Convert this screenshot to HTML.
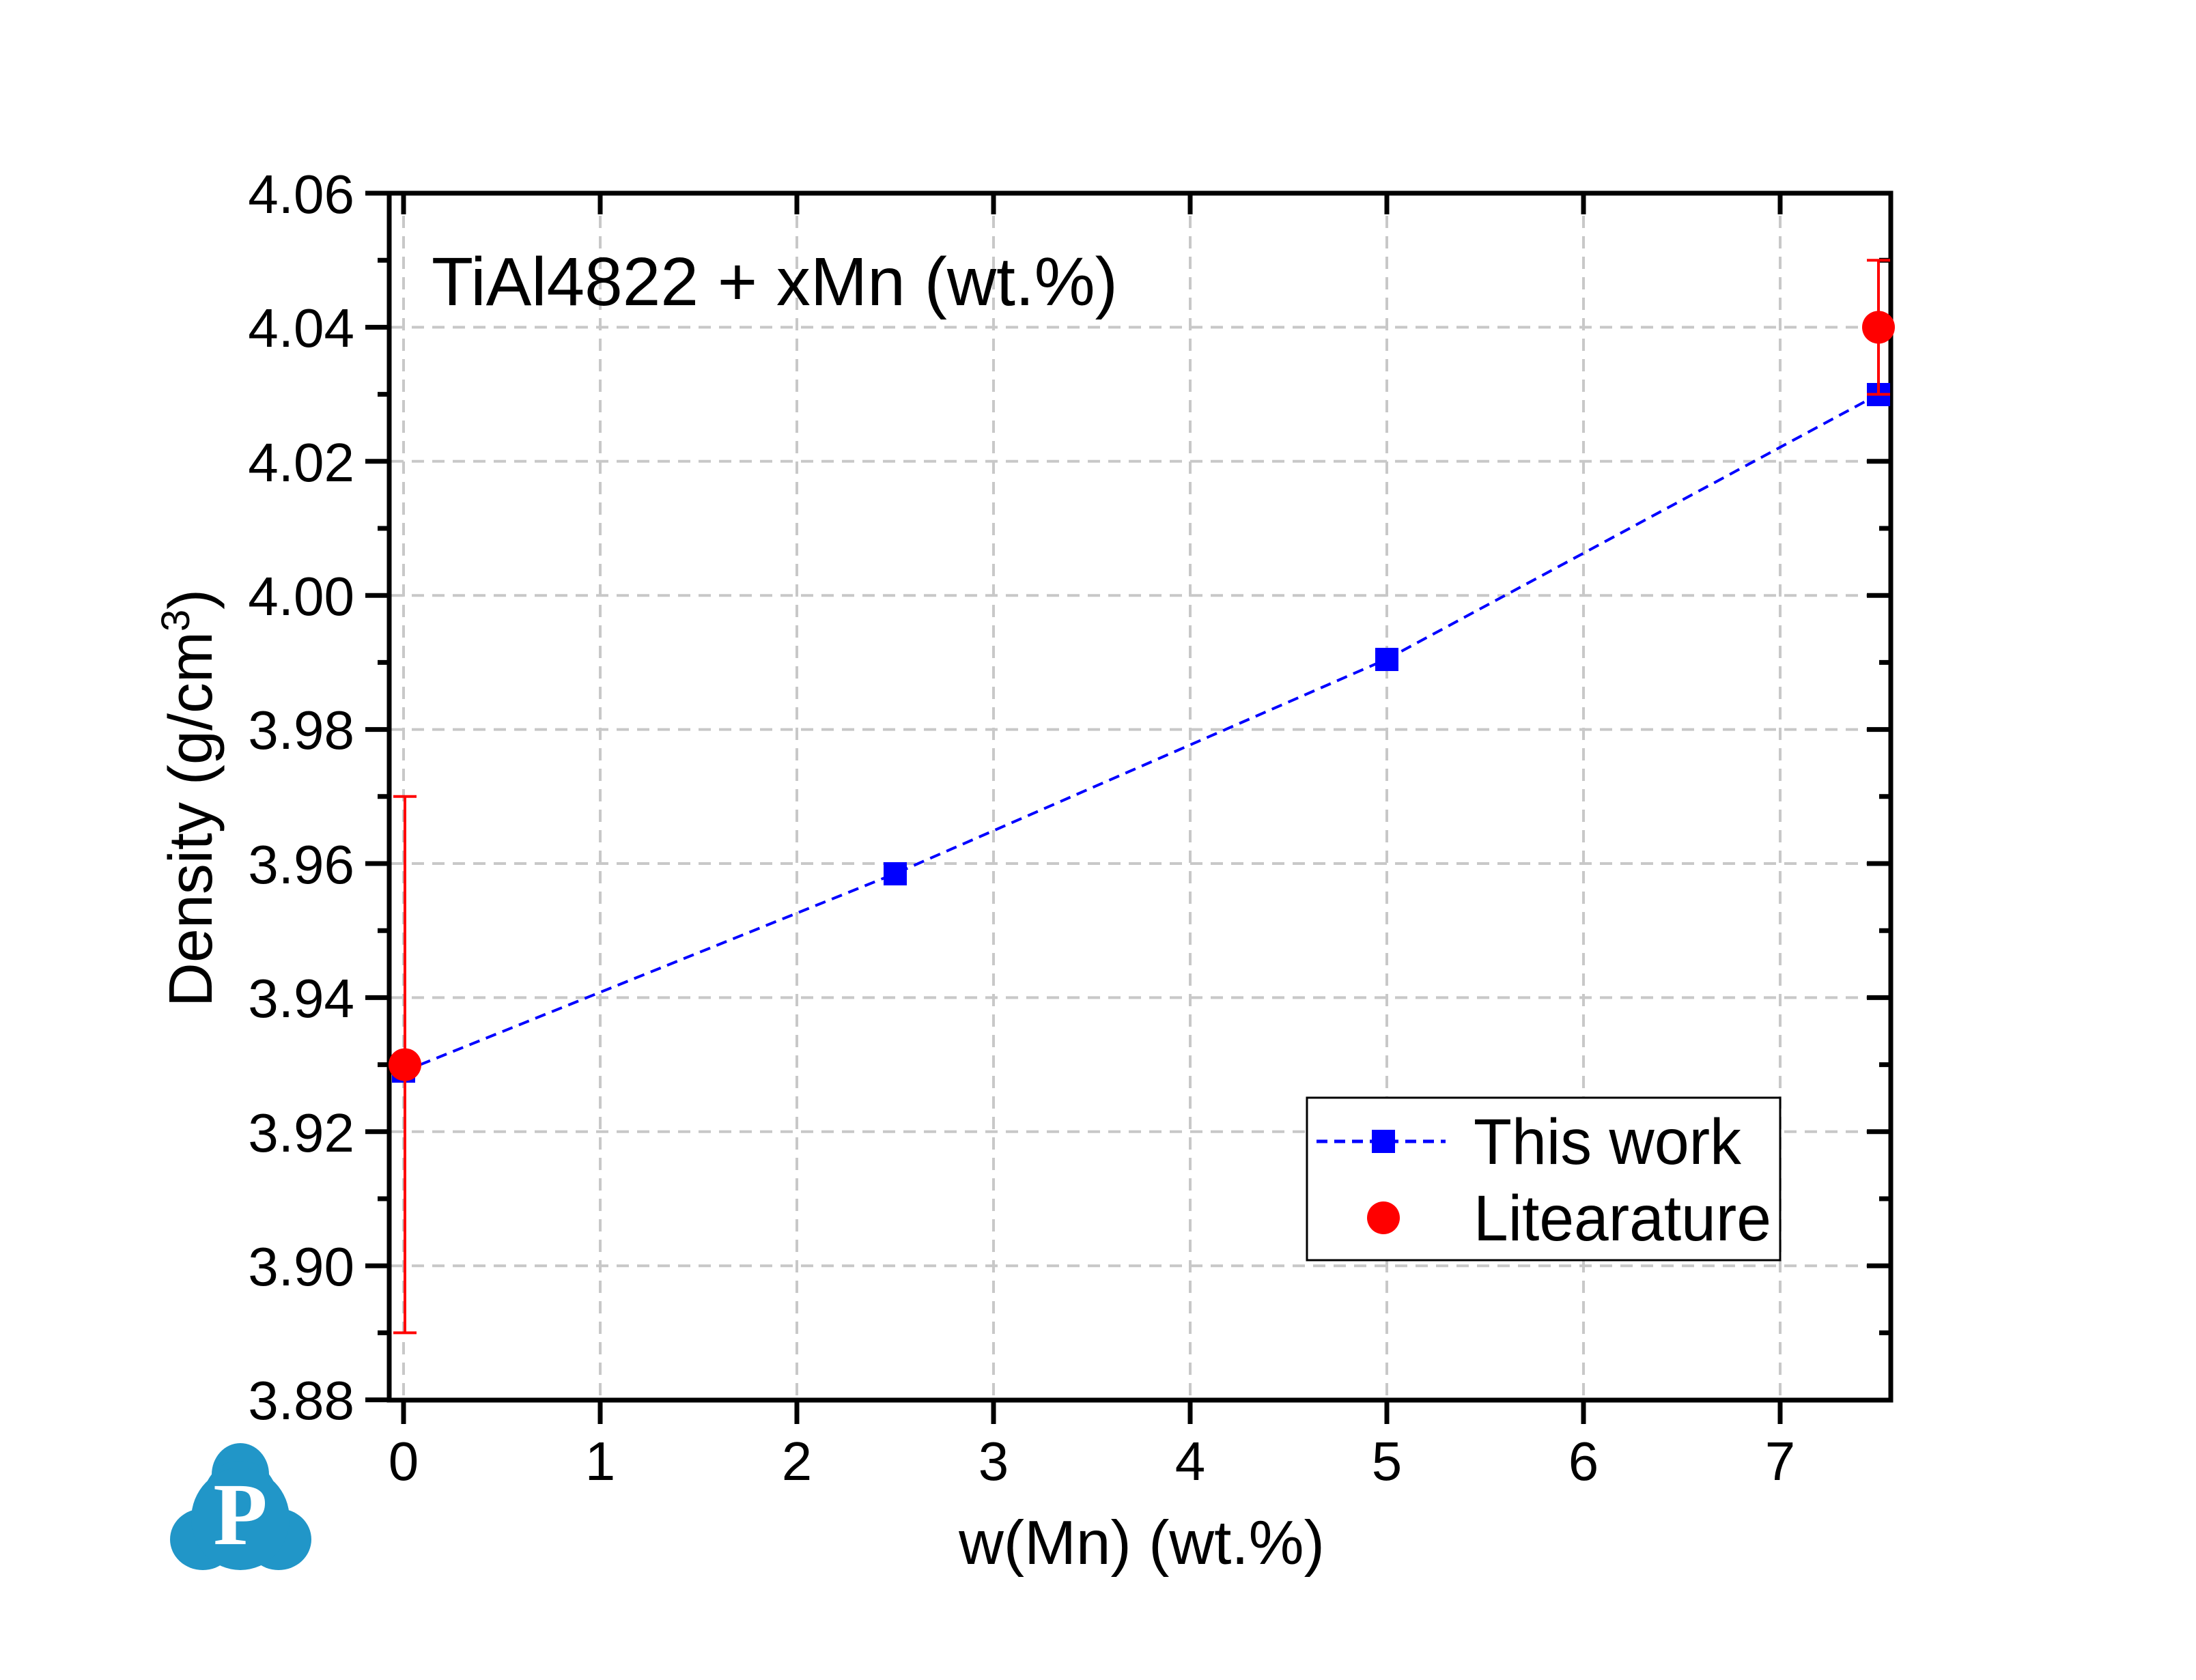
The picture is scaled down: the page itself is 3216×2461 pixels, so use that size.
<!DOCTYPE html>
<html><head><meta charset="utf-8"><style>html,body{margin:0;padding:0;background:#fff}svg{display:block}</style></head>
<body>
<svg width="3216" height="2461" viewBox="0 0 3216 2461" xmlns="http://www.w3.org/2000/svg" font-family="Liberation Sans, Arial, sans-serif">
<rect width="3216" height="2461" fill="#fff"/>
<!-- grid -->
<g stroke="#c8c8c8" stroke-width="4" stroke-dasharray="18,12" fill="none">
<path d="M591 286V2048M879 286V2048M1167 286V2048M1455 286V2048M1743 286V2048M2031 286V2048M2319 286V2048M2607 286V2048"/>
<path d="M573 479.4H2766M573 675.8H2766M573 872.2H2766M573 1068.6H2766M573 1265H2766M573 1461.4H2766M573 1657.8H2766M573 1854.2H2766"/>
</g>
<!-- ticks -->
<g stroke="#000" stroke-width="7">
<path d="M535 283H570M535 479.4H570M535 675.8H570M535 872.2H570M535 1068.6H570M535 1265H570M535 1461.4H570M535 1657.8H570M535 1854.2H570M535 2050.6H570"/>
<path d="M553 381.2H570M553 577.6H570M553 774H570M553 970.4H570M553 1166.8H570M553 1363.2H570M553 1559.6H570M553 1756H570M553 1952.4H570"/>
<path d="M2734 479.4H2769M2734 675.8H2769M2734 872.2H2769M2734 1068.6H2769M2734 1265H2769M2734 1461.4H2769M2734 1657.8H2769M2734 1854.2H2769"/>
<path d="M2752 381.2H2769M2752 577.6H2769M2752 774H2769M2752 970.4H2769M2752 1166.8H2769M2752 1363.2H2769M2752 1559.6H2769M2752 1756H2769M2752 1952.4H2769"/>
<path d="M591 2051V2086M879 2051V2086M1167 2051V2086M1455 2051V2086M1743 2051V2086M2031 2051V2086M2319 2051V2086M2607 2051V2086"/>
<path d="M591 283V314M879 283V314M1167 283V314M1455 283V314M1743 283V314M2031 283V314M2319 283V314M2607 283V314"/>
</g>
<rect x="570" y="283" width="2199" height="1768" fill="none" stroke="#000" stroke-width="7"/>
<!-- tick labels -->
<g font-size="80" text-anchor="end" fill="#000">
<text x="519" y="312">4.06</text><text x="519" y="508">4.04</text><text x="519" y="705">4.02</text><text x="519" y="901">4.00</text><text x="519" y="1097">3.98</text><text x="519" y="1294">3.96</text><text x="519" y="1490">3.94</text><text x="519" y="1687">3.92</text><text x="519" y="1883">3.90</text><text x="519" y="2079">3.88</text>
</g>
<g font-size="80" text-anchor="middle" fill="#000">
<text x="591" y="2168">0</text><text x="879" y="2168">1</text><text x="1167" y="2168">2</text><text x="1455" y="2168">3</text><text x="1743" y="2168">4</text><text x="2031" y="2168">5</text><text x="2319" y="2168">6</text><text x="2607" y="2168">7</text>
</g>
<text x="1672" y="2291" font-size="91" text-anchor="middle">w(Mn) (wt.%)</text>
<text transform="translate(310,1169) rotate(-90)" font-size="90" text-anchor="middle">Density (g/cm<tspan font-size="58" dy="-33">3</tspan><tspan dy="33">)</tspan></text>
<text x="632" y="447" font-size="100">TiAl4822 + xMn (wt.%)</text>
<!-- this work -->
<polyline points="591,1569.4 1311,1279.7 2031,965.5 2751,577.6" fill="none" stroke="#0000ff" stroke-width="4" stroke-dasharray="16,10"/>
<g fill="#0000ff">
<rect x="574" y="1552" width="34" height="34"/><rect x="1294" y="1263" width="34" height="34"/><rect x="2014" y="949" width="34" height="34"/><rect x="2734" y="561" width="34" height="34"/>
</g>
<!-- literature -->
<g stroke="#ff0000" stroke-width="4">
<path d="M593 1166.8V1952.4M576 1166.8H610M576 1952.4H610"/>
<path d="M2751 381.2V577.6M2734 381.2H2768M2734 577.6H2768"/>
</g>
<g fill="#ff0000"><circle cx="593" cy="1559.6" r="24"/><circle cx="2751" cy="479.4" r="24"/></g>
<!-- legend -->
<rect x="1914" y="1608" width="693" height="238" fill="#fff" stroke="#000" stroke-width="3"/>
<path d="M1928 1672H2117" stroke="#0000ff" stroke-width="5" stroke-dasharray="16,10"/>
<rect x="2009" y="1655" width="34" height="34" fill="#0000ff"/>
<circle cx="2026" cy="1784" r="24" fill="#ff0000"/>
<text x="2158" y="1705" font-size="95" textLength="392" lengthAdjust="spacingAndGlyphs">This work</text>
<text x="2158" y="1817" font-size="95" textLength="436" lengthAdjust="spacingAndGlyphs">Litearature</text>
<!-- logo -->
<g fill="#2196c8">
<ellipse cx="352" cy="2160" rx="42" ry="46"/>
<path d="M290 2230 Q295 2140 352 2140 Q409 2140 414 2230 Z"/>
<ellipse cx="297" cy="2255" rx="48" ry="45"/>
<ellipse cx="408" cy="2255" rx="48" ry="45"/>
<ellipse cx="352" cy="2225" rx="72" ry="75"/>
</g>
<text x="352" y="2262" font-size="130" font-family="Liberation Serif, serif" font-weight="bold" fill="#fff" text-anchor="middle">P</text>
</svg>
</body></html>
